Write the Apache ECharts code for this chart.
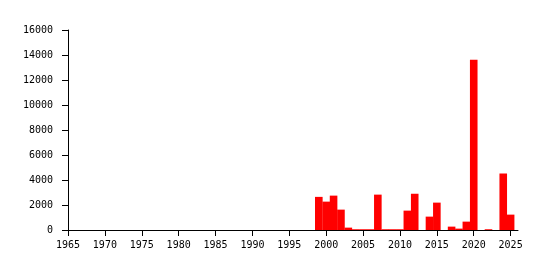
<!DOCTYPE html>
<html>
<head>
<meta charset="utf-8">
<script src="https://cdn.jsdelivr.net/npm/echarts@6/dist/echarts.min.js"></script>
<style>
html,body{margin:0;padding:0;background:#fff;}
#c{width:546px;height:270px;}
</style>
</head>
<body>
<div id="c"></div>
<script>
const years = [1999,2000,2001,2002,2003,2004,2005,2006,2007,2008,2009,2010,2011,2012,2013,2014,2015,2016,2017,2018,2019,2020,2021,2022,2023,2024,2025];
const values = [2650,2270,2750,1630,190,60,60,60,2830,60,60,60,1550,2900,0,1070,2190,0,270,110,670,13630,0,60,0,4520,1230];
const xTicks = [1965,1970,1975,1980,1985,1990,1995,2000,2005,2010,2015,2020,2025];
const yTicks = [0,2000,4000,6000,8000,10000,12000,14000,16000];

const chart = echarts.init(document.getElementById('c'), null, {renderer:'canvas'});
const font = {fontFamily:'DejaVu Sans Mono', fontSize:10, color:'#000'};
chart.setOption({
  animation:false,
  backgroundColor:'#fff',
  grid:{left:68, top:30, right:28, bottom:40, containLabel:false},
  xAxis:{
    type:'value', min:1965, max:2026,
    axisLine:{show:true, lineStyle:{color:'#000', width:1}},
    axisTick:{show:true, length:6, lineStyle:{color:'#000'}, customValues:xTicks},
    axisLabel:Object.assign({margin:10, customValues:xTicks, formatter:v=>String(v)}, font),
    splitLine:{show:false}
  },
  yAxis:{
    type:'value', min:yTicks[0], max:yTicks[yTicks.length-1], interval:2000,
    axisLine:{show:true, lineStyle:{color:'#000', width:1}},
    axisTick:{show:true, length:6, lineStyle:{color:'#000'}},
    axisLabel:Object.assign({margin:15, formatter:v=>String(v)}, font),
    splitLine:{show:false}
  },
  series:[{
    type:'bar',
    data: years.map((y,i)=>[y, values[i]]),
    barWidth:7.6,
    itemStyle:{color:'#ff0000', borderWidth:0},
    z:3
  }]
});
</script>
</body>
</html>
